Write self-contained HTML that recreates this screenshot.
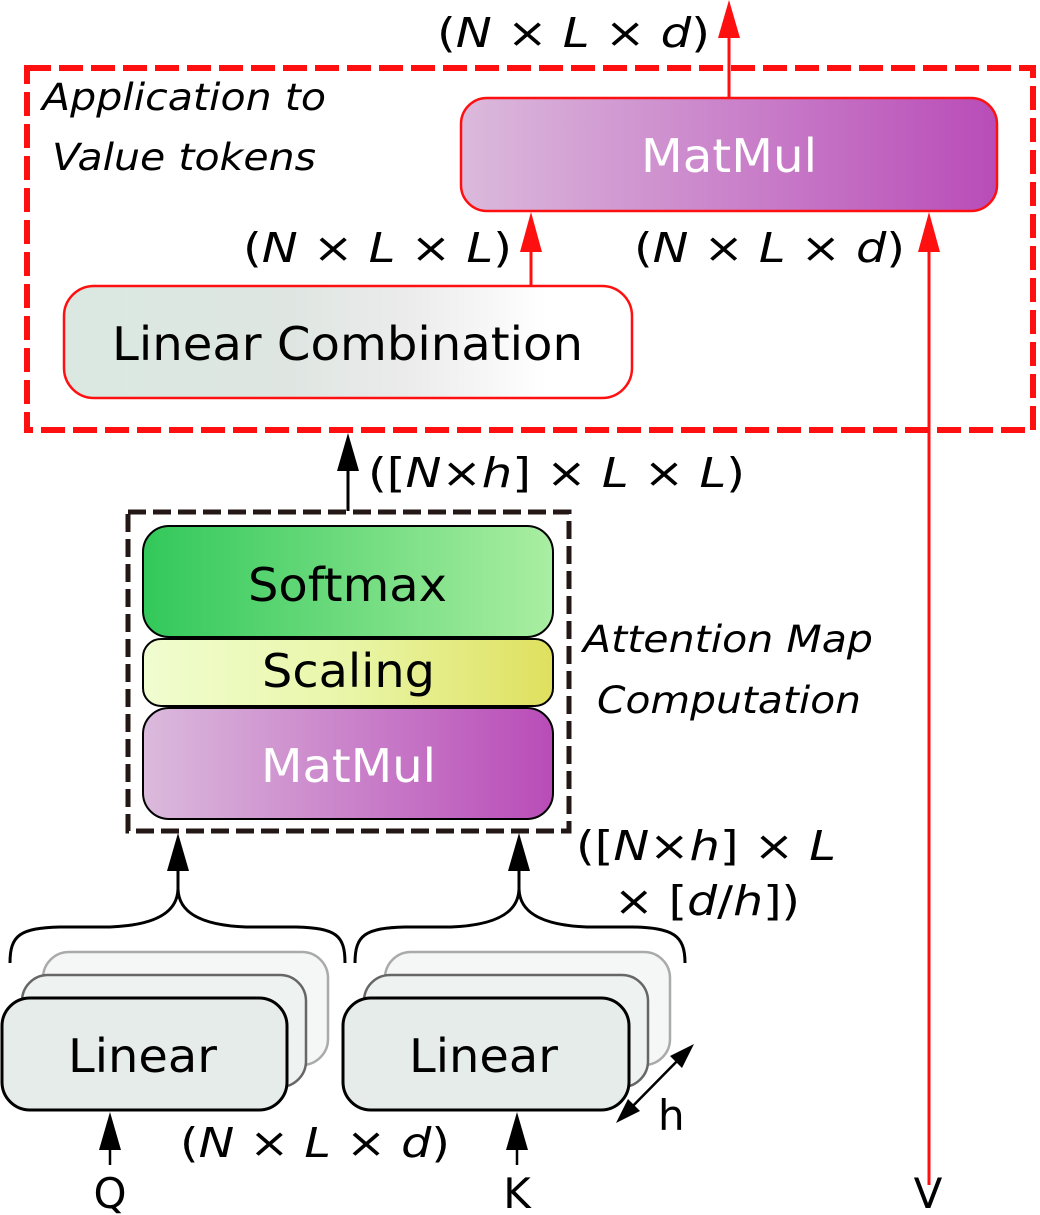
<!DOCTYPE html>
<html><head><meta charset="utf-8"><style>html,body{margin:0;padding:0;background:#fff}svg{display:block}</style></head><body>
<svg width="1040" height="1215" viewBox="0 0 1040 1215" xmlns="http://www.w3.org/2000/svg">
<defs>
<linearGradient id="pur" x1="0" x2="1" y1="0" y2="0"><stop offset="0" stop-color="#dbbadc"/><stop offset="1" stop-color="#b94cb8"/></linearGradient>
<linearGradient id="lc" x1="0" x2="1"><stop offset="0" stop-color="#dae8e1"/><stop offset="0.4" stop-color="#dfe6e2"/><stop offset="0.6" stop-color="#ebebeb"/><stop offset="0.85" stop-color="#ffffff"/></linearGradient>
<linearGradient id="grn" x1="0" x2="1"><stop offset="0" stop-color="#32c85a"/><stop offset="1" stop-color="#aaeea2"/></linearGradient>
<linearGradient id="yel" x1="0" x2="1"><stop offset="0" stop-color="#f0fdd0"/><stop offset="0.5" stop-color="#e9f6a8"/><stop offset="1" stop-color="#dfe05e"/></linearGradient>
</defs>
<style>
text{font-family:"DejaVu Sans","Liberation Sans",sans-serif}
.l{font-size:41px}
.i{font-style:italic}
</style>

<rect x="27" y="68" width="1006" height="362" fill="none" stroke="#ff1010" stroke-width="6" stroke-dasharray="24,8"/>
<text x="42" y="110" font-size="37" font-style="italic" textLength="284" lengthAdjust="spacingAndGlyphs">Application to</text>
<text x="52" y="170" font-size="37" font-style="italic" textLength="264" lengthAdjust="spacingAndGlyphs">Value tokens</text>

<rect x="461" y="98" width="536" height="113" rx="26" fill="url(#pur)" stroke="#ff1010" stroke-width="2.5"/>
<text x="641" y="172" font-size="46" fill="#fff" textLength="176" lengthAdjust="spacingAndGlyphs">MatMul</text>
<line x1="729" y1="98" x2="729" y2="30" stroke="#ff1010" stroke-width="3"/>
<path d="M729,0 L718,38 L740,38 z" fill="#ff1010"/>
<text x="437" y="47" class="l" textLength="273" lengthAdjust="spacingAndGlyphs">(<tspan class="i">N</tspan> × <tspan class="i">L</tspan> × <tspan class="i">d</tspan>)</text>

<rect x="64" y="286" width="568" height="112" rx="30" fill="url(#lc)" stroke="#ff1010" stroke-width="2.5"/>
<text x="112" y="360" font-size="46" textLength="471" lengthAdjust="spacingAndGlyphs">Linear Combination</text>
<line x1="531" y1="286" x2="531" y2="240" stroke="#ff1010" stroke-width="3"/>
<path d="M531,212 L520,252 L542,252 z" fill="#ff1010"/>
<text x="243" y="262" class="l" textLength="269" lengthAdjust="spacingAndGlyphs">(<tspan class="i">N</tspan> × <tspan class="i">L</tspan> × <tspan class="i">L</tspan>)</text>
<text x="634" y="262" class="l" textLength="271" lengthAdjust="spacingAndGlyphs">(<tspan class="i">N</tspan> × <tspan class="i">L</tspan> × <tspan class="i">d</tspan>)</text>

<line x1="929" y1="1185" x2="929" y2="240" stroke="#ff1010" stroke-width="3"/>
<path d="M929,212 L918,252 L940,252 z" fill="#ff1010"/>
<text x="928" y="1208" font-size="42" text-anchor="middle">V</text>

<line x1="348" y1="511" x2="348" y2="460" stroke="#000" stroke-width="3"/>
<path d="M348,433 L337,471 L359,471 z" fill="#000"/>
<text x="368" y="487" class="l" textLength="377" lengthAdjust="spacingAndGlyphs">([<tspan class="i">N</tspan>×<tspan class="i">h</tspan>] × <tspan class="i">L</tspan> × <tspan class="i">L</tspan>)</text>

<rect x="128" y="512" width="441" height="319" fill="none" stroke="#231815" stroke-width="5" stroke-dasharray="18,7"/>
<rect x="143" y="526" width="410" height="111" rx="26" fill="url(#grn)" stroke="#000" stroke-width="2"/>
<text x="248" y="601" font-size="46" textLength="199" lengthAdjust="spacingAndGlyphs">Softmax</text>
<rect x="143" y="639" width="410" height="67" rx="18" fill="url(#yel)" stroke="#000" stroke-width="2"/>
<text x="262" y="687" font-size="46" textLength="173" lengthAdjust="spacingAndGlyphs">Scaling</text>
<rect x="143" y="708" width="410" height="111" rx="26" fill="url(#pur)" stroke="#000" stroke-width="2"/>
<text x="261" y="782" font-size="46" fill="#fff" textLength="175" lengthAdjust="spacingAndGlyphs">MatMul</text>
<text x="583" y="652" font-size="37" font-style="italic" textLength="290" lengthAdjust="spacingAndGlyphs">Attention Map</text>
<text x="597" y="713" font-size="37" font-style="italic" textLength="264" lengthAdjust="spacingAndGlyphs">Computation</text>
<text x="576" y="860" class="l" textLength="260" lengthAdjust="spacingAndGlyphs">([<tspan class="i">N</tspan>×<tspan class="i">h</tspan>] × <tspan class="i">L</tspan></text>
<text x="614" y="915" class="l" textLength="186" lengthAdjust="spacingAndGlyphs">× [<tspan class="i">d</tspan>/<tspan class="i">h</tspan>])</text>

<line x1="178" y1="890" x2="178" y2="860" stroke="#000" stroke-width="3"/>
<path d="M178,833 L167,871 L189,871 z" fill="#000"/>
<line x1="519" y1="890" x2="519" y2="860" stroke="#000" stroke-width="3"/>
<path d="M519,833 L508,871 L530,871 z" fill="#000"/>

<path d="M10,963 C10,935 20,928 60,927 L110,927 C160,925 178,910 178,888 C178,910 196,925 246,927 L296,927 C336,928 345,935 345,963" fill="none" stroke="#000" stroke-width="3"/>
<path d="M355,963 C355,935 365,928 405,927 L451,927 C501,925 519,910 519,888 C519,910 537,925 587,927 L633,927 C673,928 685,935 685,963" fill="none" stroke="#000" stroke-width="3"/>

<rect x="43" y="952" width="285" height="113" rx="26" fill="#f5f7f6" stroke="#aaa" stroke-width="2.5"/>
<rect x="22" y="975" width="284" height="112" rx="26" fill="#eef2f0" stroke="#666" stroke-width="2.5"/>
<rect x="2" y="998" width="285" height="112" rx="28" fill="#e6ecea" stroke="#000" stroke-width="3"/>
<text x="68" y="1072" font-size="46" textLength="149" lengthAdjust="spacingAndGlyphs">Linear</text>
<rect x="385" y="952" width="285" height="113" rx="26" fill="#f5f7f6" stroke="#aaa" stroke-width="2.5"/>
<rect x="364" y="975" width="284" height="112" rx="26" fill="#eef2f0" stroke="#666" stroke-width="2.5"/>
<rect x="343" y="998" width="286" height="112" rx="28" fill="#e6ecea" stroke="#000" stroke-width="3"/>
<text x="409" y="1072" font-size="46" textLength="149" lengthAdjust="spacingAndGlyphs">Linear</text>

<line x1="110" y1="1165" x2="110" y2="1140" stroke="#000" stroke-width="2.5"/>
<path d="M110,1112 L99,1150 L121,1150 z" fill="#000"/>
<text x="110" y="1208" font-size="42" text-anchor="middle">Q</text>
<line x1="517" y1="1165" x2="517" y2="1140" stroke="#000" stroke-width="2.5"/>
<path d="M517,1112 L506,1150 L528,1150 z" fill="#000"/>
<text x="517" y="1208" font-size="42" text-anchor="middle">K</text>
<text x="180" y="1157" class="l" textLength="270" lengthAdjust="spacingAndGlyphs">(<tspan class="i">N</tspan> × <tspan class="i">L</tspan> × <tspan class="i">d</tspan>)</text>

<line x1="625" y1="1114" x2="686" y2="1052" stroke="#000" stroke-width="2.5"/>
<path d="M694,1044 L670,1056 L682,1068 z" fill="#000"/>
<path d="M616,1123 L628,1099 L640,1111 z" fill="#000"/>
<text x="658" y="1130" font-size="42">h</text>
</svg>
</body></html>
